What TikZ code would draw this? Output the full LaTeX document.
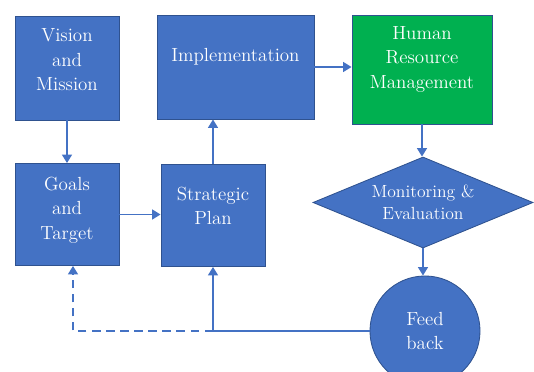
\documentclass[tikz,border=0pt]{standalone}
\usetikzlibrary{arrows.meta,shapes.geometric}
\definecolor{boxblue}{HTML}{4472C4}
\definecolor{edgeblue}{HTML}{2F528F}
\definecolor{hrgreen}{HTML}{00B050}

\begin{document}
\begin{tikzpicture}[x=0.025cm,y=-0.025cm,font=\fontsize{13.5}{17.4}\selectfont]
\tikzstyle{block} = [rectangle, draw=edgeblue, line width=0.6pt, fill=boxblue,
text=white, align=center, inner sep=0pt, minimum width=2.6cm, minimum height=2.6cm]
\tikzstyle{decision} = [diamond, draw=edgeblue, line width=0.6pt, fill=boxblue,
text=white, align=center, inner sep=0pt, aspect=2.42, minimum width=5.5cm, minimum height=2.275cm,
font=\fontsize{12.5}{16}\selectfont]
\tikzstyle{cloud} = [circle, draw=edgeblue, line width=0.6pt, fill=boxblue,
text=white, align=center, inner sep=0pt, minimum size=2.75cm]
\tikzstyle{line} = [draw=boxblue, line width=1.3pt, -{Triangle[width=7pt,length=6pt]}]
\useasboundingbox (0,0) rectangle (534,372);

% top row
\node [block] (vision) at (67,68) {Vision\\and\\Mission\\[-6pt]\mbox{}};
\node [block, minimum width=3.925cm] (impl) at (235.5,67) {Implementation\\\mbox{}};
\node [block, fill=hrgreen, minimum width=3.5cm, minimum height=2.725cm] (hrm) at (422,69.5)
{Human\\Resource\\Management\\\mbox{}};
% middle row
\node [block, minimum height=2.55cm] (goals) at (67,214.5) {Goals\\and\\Target\\[-8pt]\mbox{}};
\node [block, minimum height=2.55cm] (strat) at (213,215.5) {Strategic\\Plan\\[-4pt]\mbox{}};
\node [decision] (monitor) at (423,202.5) {Monitoring \&\\Evaluation};
% bottom
\node [cloud] (feed) at (425,331) {Feed\\back};
\coordinate (join) at (strat.south |- feed.west);

\tikzstyle{every path}=[line]
\path (vision) -- (goals);
\path (goals) -- (goals -| strat.west);
\path (strat.north) -- (strat.north |- impl.south);
\path (impl.east) -- (impl.east -| hrm.west);
\path (hrm.south) -- (hrm.south |- monitor.north);
\path (monitor.south) -- (monitor.south |- feed.north);
\path (feed.west) -- (join) -- (strat.south);
\path [dash pattern=on 6pt off 4pt] (join) -| ([xshift=0.15cm]goals.south);
\end{tikzpicture}
\end{document}
